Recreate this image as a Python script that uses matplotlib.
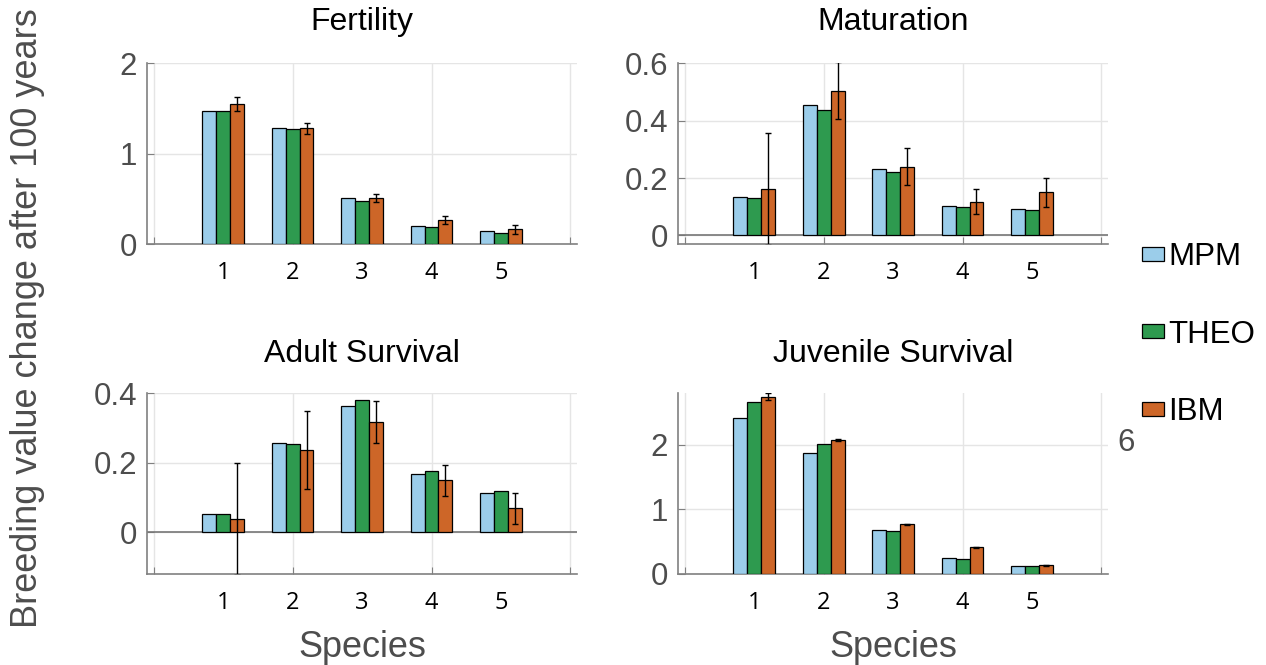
import numpy as np
import matplotlib
matplotlib.use("Agg")
import matplotlib.pyplot as plt

plt.rcParams['font.family'] = ['Liberation Sans', 'DejaVu Sans']

species = [1, 2, 3, 4, 5]
methods = ['MPM', 'THEO', 'IBM']
colors = ['#9bcdea', '#2e9a4f', '#cd6628']
titles = ['Fertility', 'Maturation', 'Adult Survival', 'Juvenile Survival']

fert_mpm = [1.47, 1.28, 0.51, 0.20, 0.14]
fert_theo = [1.47, 1.27, 0.48, 0.19, 0.125]
fert_ibm = [1.55, 1.28, 0.51, 0.265, 0.165]
fert_err = [0.08, 0.06, 0.04, 0.045, 0.05]

mat_mpm = [0.134, 0.455, 0.230, 0.103, 0.091]
mat_theo = [0.131, 0.436, 0.221, 0.100, 0.089]
mat_ibm = [0.163, 0.504, 0.240, 0.118, 0.150]
mat_err = [0.195, 0.10, 0.065, 0.045, 0.05]

ad_mpm = [0.052, 0.255, 0.362, 0.167, 0.112]
ad_theo = [0.052, 0.252, 0.380, 0.176, 0.118]
ad_ibm = [0.038, 0.235, 0.317, 0.149, 0.068]
ad_err = [0.16, 0.112, 0.06, 0.045, 0.045]

juv_mpm = [2.42, 1.877, 0.677, 0.246, 0.123]
juv_theo = [2.66, 2.015, 0.667, 0.236, 0.118]
juv_ibm = [2.744, 2.067, 0.769, 0.41, 0.133]
juv_err = [0.05, 0.015, 0.01, 0.01, 0.01]

panels = [
    (fert_mpm, fert_theo, fert_ibm, fert_err),
    (mat_mpm, mat_theo, mat_ibm, mat_err),
    (ad_mpm, ad_theo, ad_ibm, ad_err),
    (juv_mpm, juv_theo, juv_ibm, juv_err),
]
ylims = [(0, 2), (-0.03, 0.6), (-0.12, 0.4), (0, 2.8)]
yticks = [[0, 1, 2], [0, 0.2, 0.4, 0.6], [0, 0.2, 0.4], [0, 1, 2]]
yticklabels = [['0', '1', '2'], ['0', '0.2', '0.4', '0.6'], ['0', '0.2', '0.4'], ['0', '1', '2']]

# axes boxes in figure fractions [left, bottom, width, height]
boxes = [
    [0.116, 0.633, 0.340, 0.272],
    [0.5355, 0.633, 0.340, 0.272],
    [0.116, 0.137, 0.340, 0.272],
    [0.5355, 0.137, 0.340, 0.272],
]

fig = plt.figure(figsize=(12.66, 6.65), dpi=100)
gray = '#4d4d4d'
bar_width = 0.2
x = np.array(species)

for k, data in enumerate(panels):
    ax = fig.add_axes(boxes[k])
    vals = data[:3]
    err = data[3]
    for i in range(3):
        ax.bar(x + (i - 1) * bar_width, vals[i], bar_width, color=colors[i],
               edgecolor='black', linewidth=0.9, label=methods[i], zorder=3)
    ax.errorbar(x + bar_width, vals[2], yerr=err, fmt='none', ecolor='black',
                elinewidth=1, capsize=2.5, capthick=1, zorder=4)
    ax.set_xlim(-0.1, 6.1)
    ax.set_ylim(*ylims[k])
    if ylims[k][0] < 0:
        ax.axhline(0, color='#777777', linewidth=1.2, zorder=2)
    # major ticks for grid, minor ticks carry the species labels
    ax.xaxis.remove_overlapping_locs = False
    ax.set_xticks([0, 2, 4, 6])
    ax.set_xticklabels([])
    ax.set_xticks(species, minor=True)
    ax.set_xticklabels([str(s) for s in species], minor=True,
                       fontfamily='Open Sans', fontsize=17, color='black')
    ax.tick_params(axis='x', which='minor', length=0, pad=12)
    ax.tick_params(axis='x', which='major', direction='in', length=5, color='#808080')
    ax.set_yticks(yticks[k])
    ax.set_yticklabels(yticklabels[k], fontsize=22.5, color=gray)
    ax.tick_params(axis='y', direction='in', length=5, color='#808080', pad=7)
    ax.grid(True, which='major', color='#e5e5e5', linewidth=1)
    ax.set_axisbelow(True)
    for s in ['top', 'right']:
        ax.spines[s].set_visible(False)
    for s in ['left', 'bottom']:
        ax.spines[s].set_color('#808080')
        ax.spines[s].set_linewidth(1.2)
    ax.set_title(titles[k], fontsize=23, color='black', pad=24 if k < 2 else 22)
    if k >= 2:
        ax.set_xlabel('Species', fontsize=26, color=gray, labelpad=11)
    if k == 0:
        handles, labels = ax.get_legend_handles_labels()

fig.text(28 / 1266, 1 - 318 / 665, 'Breeding value change after 100 years',
         rotation=90, ha='center', va='center', fontsize=26, color=gray)
fig.text(1126 / 1266, 1 - 443 / 665, '6', ha='center', va='center',
         fontsize=22.5, color=gray)

fig.legend(handles, labels, loc='upper left', bbox_to_anchor=(0.902, 0.636),
           frameon=False, fontsize=22.5, handlelength=0.7, handleheight=0.3,
           handletextpad=0.15, labelspacing=1.52, borderpad=0, borderaxespad=0)

fig.savefig('out.png', dpi=100)
